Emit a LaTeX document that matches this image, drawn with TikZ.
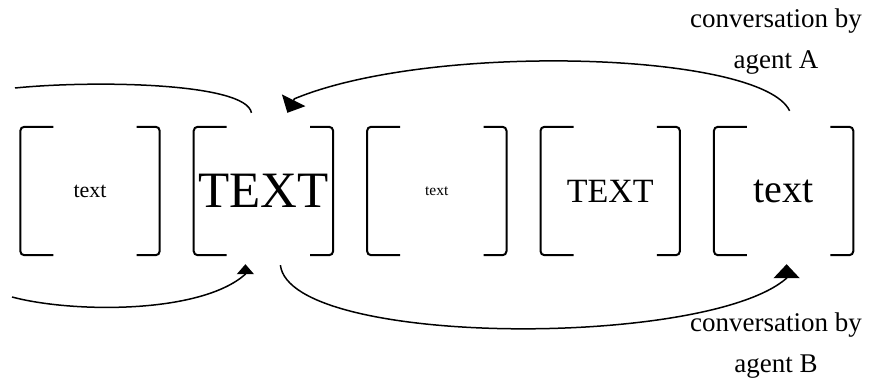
\documentclass[tikz,border=0pt]{standalone}
\usepackage{fontspec}
\setmainfont{Liberation Serif}
\usetikzlibrary{positioning,arrows.meta}

\tikzset{case/.style={minimum width=139pt,minimum height=128pt,inner sep=0pt,font=\fontsize{#1}{#1}\selectfont},case/.default={22},
crochet/.style={line width=2pt,rounded corners=4pt},
courbe/.style={line width=1.5pt},
fleche/.style={courbe,-{Triangle[width=26pt,length=14pt]}},
petitefleche/.style={courbe,-{Triangle[width=17pt,length=10pt]}},
legende/.style={align=center,font=\fontsize{27}{41}\selectfont}}

\begin{document}
\begin{tikzpicture}[x=1pt,y=1pt]
\useasboundingbox (0,0) rectangle (877,381);
% the five cells
\node [case=22] (b1) at (90,190) {text};
\node [case=51,right=34pt of b1] (b2) {TEXT};
\node [case=15.5,right=34pt of b2] (b3) {text};
\node [case=34,right=34pt of b3] (b4) {TEXT};
\node [case=40,right=34pt of b4] (b5) {text};
% brackets around each cell
\foreach \b in {b1,b2,b3,b4,b5}{
	\draw [crochet] ([xshift=33pt]\b.north west) -- (\b.north west) -- (\b.south west) -- ([xshift=33pt]\b.south west);
	\draw [crochet] ([xshift=-23pt]\b.north east) -- (\b.north east) -- (\b.south east) -- ([xshift=-23pt]\b.south east);
}
% loose ends on the left
\coordinate (hautg) at (15,293);
\coordinate (basg) at (12,84);
% agent A, above
\draw [fleche] ([xshift=6pt,yshift=16pt]b5.north) .. controls +(-28,59) and +(137,57) .. ([xshift=31pt,yshift=28pt]b2.north) -- ++(-7,-14);
\draw [courbe] (hautg) .. controls +(80,8) and +(-5,30) .. ([xshift=-12pt,yshift=14pt]b2.north);
% agent B, below
\draw [fleche] ([xshift=17pt,yshift=-10pt]b2.south) .. controls +(10,-82) and +(-80,-70) .. ([xshift=3pt,yshift=-23pt]b5.south) -- ++(0,14);
\draw [petitefleche] (basg) .. controls +(60,-16) and +(-45,-40) .. ([xshift=-18pt,yshift=-19pt]b2.south) -- ++(0,10);
% captions
\node [legende] (agentA) at (776,339) {conversation by\\agent A};
\node [legende] (agentB) at (776,35) {conversation by\\agent B};
\end{tikzpicture}
\end{document}
